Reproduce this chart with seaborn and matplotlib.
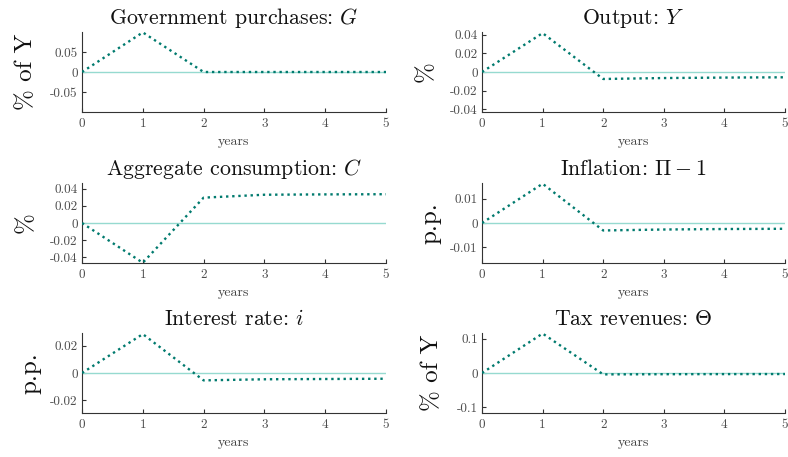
import matplotlib
matplotlib.use("Agg")
import matplotlib.pyplot as plt
import seaborn as sns
import numpy as np

# ---- data ----
years = [0, 1, 2, 3, 4, 5]
G_vals = [0.0, 0.099, 0.0, 0.0, 0.0, 0.0]
Y_vals = [0.0, 0.0418, -0.0075, -0.0065, -0.0060, -0.0057]
C_vals = [0.0, -0.0464, 0.0296, 0.0330, 0.0334, 0.0336]
Pi_vals = [0.0, 0.0163, -0.0031, -0.0027, -0.0025, -0.0024]
i_vals = [0.0, 0.0285, -0.0054, -0.0046, -0.0044, -0.0042]
Theta_vals = [0.0, 0.1144, -0.0040, -0.0035, -0.0032, -0.0030]

titles = ["Government purchases: $G$", "Output: $Y$",
          "Aggregate consumption: $C$", r"Inflation: $\Pi-1$",
          "Interest rate: $i$", r"Tax revenues: $\Theta$"]
ylabels = ["% of Y", "%", "%", "p.p.", "p.p.", "% of Y"]
series = [G_vals, Y_vals, C_vals, Pi_vals, i_vals, Theta_vals]
yticks = [[-0.05, 0, 0.05], [-0.04, -0.02, 0, 0.02, 0.04],
          [-0.04, -0.02, 0, 0.02, 0.04], [-0.01, 0, 0.01],
          [-0.02, 0, 0.02], [-0.1, 0, 0.1]]
ylims = [0.1, 0.043, 0.0467, 0.0166, 0.0293, 0.116]
xticks = [0, 1, 2, 3, 4, 5]

sns.set_style("ticks")
plt.rcParams["font.family"] = "serif"
plt.rcParams["font.serif"] = ["cmr10", "DejaVu Serif"]
plt.rcParams["mathtext.fontset"] = "cm"
plt.rcParams["axes.unicode_minus"] = False
plt.rcParams["axes.formatter.use_mathtext"] = True

line_color = "#007a6e"
zero_color = "#96dad0"
tick_color = "#4d4d4d"
spine_color = "#333333"

fig = plt.figure(figsize=(7.88, 4.57), dpi=100)
W, H = 788, 457
col_left = [82, 482]
col_w = [304, 303]
row_top = [32, 183, 333]
row_h = 80
label_x = [-0.148, -0.1485, -0.148, -0.133, -0.1326, -0.129]

for k in range(6):
    r, c = divmod(k, 2)
    ax = fig.add_axes([col_left[c] / W, 1 - (row_top[r] + row_h) / H,
                       col_w[c] / W, row_h / H])
    ax.axhline(0, color=zero_color, lw=1.0, zorder=1)
    sns.lineplot(x=years, y=series[k], ax=ax, color=line_color,
                 linestyle=(0, (1, 1.6)), lw=1.7, zorder=3)
    ax.set_xlim(0, 5)
    ax.set_ylim(-ylims[k], ylims[k])
    ax.set_xticks(xticks)
    ax.set_xticklabels([str(v) for v in xticks])
    ax.set_yticks(yticks[k])
    ax.set_yticklabels([f"{v:g}" for v in yticks[k]])
    ax.tick_params(direction="in", length=3, width=0.8, labelsize=9.5,
                   colors=spine_color, labelcolor=tick_color, pad=3)
    ax.tick_params(axis="x", pad=4.5)
    for s in ["top", "right"]:
        ax.spines[s].set_visible(False)
    for s in ["left", "bottom"]:
        ax.spines[s].set_color(spine_color)
        ax.spines[s].set_linewidth(0.8)
    ax.set_title(titles[k], fontsize=15.7, color="#111111", pad=6)
    ax.set_xlabel("years", fontsize=10, color="#444444", labelpad=4)
    ax.set_ylabel(ylabels[k], fontsize=18, color="#111111")
    ax.yaxis.set_label_coords(label_x[k], 0.5)

fig.savefig("out.png", dpi=100)
